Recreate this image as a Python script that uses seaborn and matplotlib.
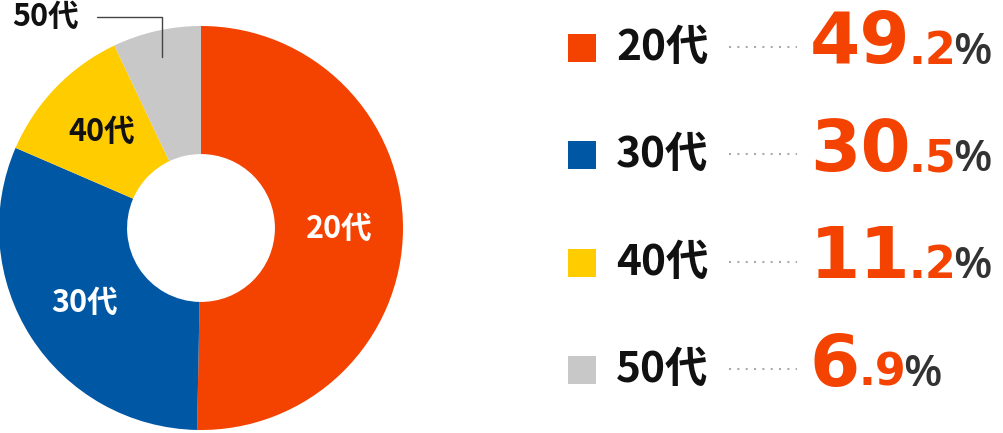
import matplotlib
matplotlib.use("Agg")
import matplotlib.pyplot as plt
from matplotlib.patches import Rectangle
import seaborn as sns
import numpy as np

# data
ages = ["20代", "30代", "40代", "50代"]
shares = [49.2, 30.5, 11.2, 6.9]
share_text = ["49.2", "30.5", "11.2", "6.9"]
colors = ["#f44200", "#0058a5", "#ffcc00", "#c8c8c8"]
label_colors = ["white", "white", "#111111", "#111111"]

sns.set_theme(style="white")
plt.rcParams["font.family"] = ["Noto Sans CJK JP", "DejaVu Sans"]

W, H = 1004, 433
fig = plt.figure(figsize=(W / 100, H / 100), dpi=100)

# donut
cx, cy, r = 201, 228, 202
ax = fig.add_axes([(cx - r) / W, (H - cy - r) / H, 2 * r / W, 2 * r / H])
wedges, _ = ax.pie(shares, colors=sns.color_palette(colors), startangle=90,
                   counterclock=False, radius=1,
                   wedgeprops=dict(width=0.634, linewidth=0))
ax.set_xlim(-1, 1)
ax.set_ylim(-1, 1)
ax.axis("off")

for i, w in enumerate(wedges):
    ang = np.deg2rad((w.theta1 + w.theta2) / 2)
    if i < 3:
        ax.text(0.685 * np.cos(ang), 0.685 * np.sin(ang), ages[i], ha="center", va="center",
                color=label_colors[i], fontsize=22, fontweight="bold")
    else:
        # outside label with leader line
        px, py = 0.88 * np.cos(ang), 0.87 * np.sin(ang)
        ax.plot([-0.515, px, px], [1.045, 1.045, py], color="#444444", lw=1, clip_on=False)
        ax.text(-0.77, 1.045, ages[i], ha="center", va="center", color=label_colors[i],
                fontsize=22, fontweight="bold", clip_on=False)

# legend on the right
lax = fig.add_axes([0, 0, 1, 1])
lax.set_xlim(0, W)
lax.set_ylim(H, 0)
lax.axis("off")

fig.canvas.draw()
renderer = fig.canvas.get_renderer()
num_font = dict(family="DejaVu Sans", fontweight="bold")

for i, age in enumerate(ages):
    y = 47.5 + i * 107.5
    lax.add_patch(Rectangle((568, y - 14), 28, 28, color=colors[i], lw=0))
    lax.text(616, y, age, ha="left", va="center", fontsize=30.5, fontweight="bold", color="#111111")
    lax.plot([729, 797], [y - 1, y - 1], linestyle=(0, (1, 3)), color="#aaaaaa", lw=1.5)

    whole, dec = share_text[i].split(".")
    base = y + 16
    t1 = lax.text(810, base, whole, ha="left", va="baseline", fontsize=52,
                  color=colors[0], **num_font)
    x1 = t1.get_window_extent(renderer).x1
    t2 = lax.text(x1 - 2, base, "." + dec, ha="left", va="baseline", fontsize=32,
                  color=colors[0], **num_font)
    x2 = t2.get_window_extent(renderer).x1
    lax.text(x2 - 3, base, "%", ha="left", va="baseline", fontsize=32,
             color="#333333", family=["Open Sans", "DejaVu Sans"], fontweight="semibold")

fig.savefig("out.png", dpi=100)
